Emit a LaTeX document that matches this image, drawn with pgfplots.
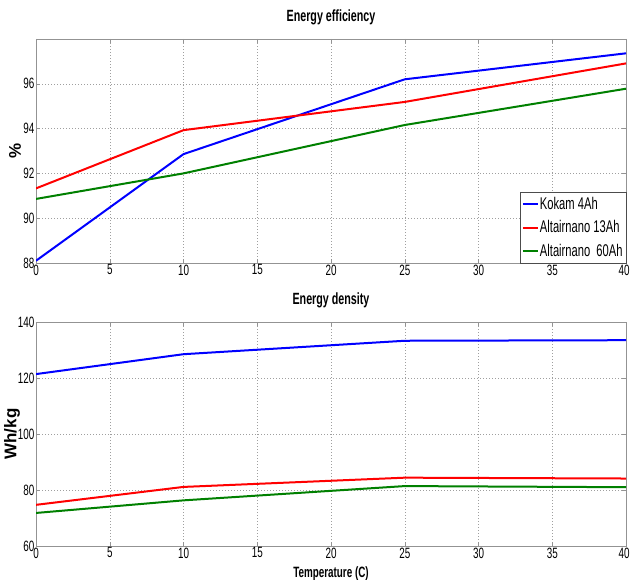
\documentclass[border=0pt]{standalone}
\usepackage{fontspec}
\setmainfont{Liberation Sans}[FakeStretch=0.66]
\newfontfamily\plainfont{Liberation Sans}
\usepackage{pgfplots}
\pgfplotsset{compat=1.18}
\definecolor{mblue}{RGB}{0,0,255}
\definecolor{mred}{RGB}{255,0,0}
\definecolor{mgreen}{RGB}{0,128,0}
\pgfplotsset{
  mstyle/.style={
    scale only axis, width=590bp, height=224bp,
    anchor=south west,
    xmin=0, xmax=40, xtick={0,5,...,40},
    xticklabels={0,5,10,15,20,25,30,35,\makebox[7bp][r]{40}},
    grid=major, grid style={dash pattern=on 1bp off 2bp, gray!75},
    axis line style={gray!85}, tick style={gray!85, thin},
    tick align=inside, major tick length=4bp,
    tick label style={font=\fontsize{15}{15}\selectfont, inner sep=1.5bp},
    /pgf/number format/assume math mode=true,
    title style={font=\bfseries\fontsize{16.3}{17}\selectfont, at={(axis description cs:0.5,1)}, anchor=base, yshift=11.6bp},
    every axis plot/.append style={line width=2bp},
    clip=true,
  }
}
\begin{document}
\begin{tikzpicture}[x=1bp,y=1bp]
\begin{axis}[mstyle,
  at={(36bp,317bp)},
  ymin=88, ymax=98, ytick={88,90,...,96},
  title={Energy efficiency},
  ylabel={\plainfont\bfseries\fontsize{17}{17}\selectfont \%},
  ylabel style={at={(axis description cs:-0.0356,0.5)}, anchor=center},
  legend cell align=left,
  legend style={at={(axis description cs:1,0)}, anchor=south east, draw=gray!60!black,
    font=\fontsize{17}{17}\selectfont, inner xsep=2bp, inner ysep=4bp, row sep=7bp,
    nodes={inner sep=1.2bp}},
  legend image code/.code={\draw[line width=2bp] (0bp,0bp) -- (15bp,0bp);},
]
\addplot[mblue] coordinates {(0,88.1) (10,92.86) (25,96.2) (40,97.36)};
\addlegendentry{Kokam 4Ah}
\addplot[mred] coordinates {(0,91.33) (10,93.93) (25,95.19) (40,96.91)};
\addlegendentry{Altairnano 13Ah}
\addplot[mgreen] coordinates {(0,90.86) (10,92.0) (25,94.16) (40,95.78)};
\addlegendentry{Altairnano\ \ 60Ah}
\end{axis}
\begin{axis}[mstyle,
  at={(36bp,34bp)},
  ymin=60, ymax=140, ytick={60,80,...,140},
  title={Energy density},
  xlabel={Temperature (C)},
  xlabel style={font=\bfseries\fontsize{15}{15}\selectfont, at={(axis description cs:0.5,0)}, anchor=north, yshift=-20bp, inner sep=0pt},
  ylabel={\plainfont\bfseries\fontsize{17}{17}\selectfont Wh/kg},
  ylabel style={at={(axis description cs:-0.0407,0.5)}, anchor=center},
]
\addplot[mblue] coordinates {(0,121.4) (10,128.5) (25,133.3) (40,133.5)};
\addplot[mred] coordinates {(0,74.7) (10,81.1) (25,84.4) (40,84.1)};
\addplot[mgreen] coordinates {(0,71.8) (10,76.3) (25,81.4) (40,81.0)};
\end{axis}
\pgfresetboundingbox
\useasboundingbox (0,0) rectangle (630,580);
\end{tikzpicture}
\end{document}
